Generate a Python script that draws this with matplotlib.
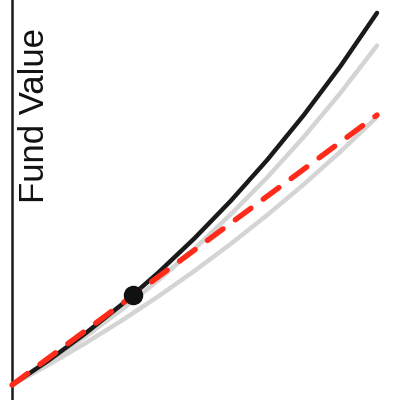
import matplotlib
matplotlib.use("Agg")
import matplotlib.pyplot as plt

# Time (fraction of horizon) and fund values
t = [0.0, 0.1, 0.2, 0.3, 0.4, 0.5, 0.6, 0.7, 0.8, 0.9, 1.0]
fund_high = [0.0, 24.5, 51.3, 80.3, 112.1, 146.7, 184.4, 225.4, 270.2, 318.9, 372.1]
fund_mid = [0.0, 23.1, 48.1, 75.1, 104.5, 136.2, 170.9, 207.9, 248.3, 292.1, 339.5]
fund_low = [0.0, 20.2, 41.6, 64.3, 88.4, 114.1, 141.3, 170.2, 200.8, 233.4, 268.0]
linear_t = [0.0, 1.0]
linear_val = [0.0, 270.0]
point_t = [0.3315]
point_val = [90.0]
ylabel = "Fund Value"

plt.rcParams['font.family'] = ['Liberation Sans', 'DejaVu Sans']

fig = plt.figure(figsize=(4, 4), dpi=100)
ax = fig.add_axes([0.03, 0.0, 0.97, 1.0])

grey = '#d4d4d4'
ax.plot(t, fund_mid, color=grey, lw=3.2, solid_capstyle='round', zorder=1)
ax.plot(t, fund_low, color=grey, lw=3.2, solid_capstyle='round', zorder=1)
ax.plot(t, fund_high, color='#1a1a1a', lw=3.2, solid_capstyle='round', zorder=2)
lw_r = 3.9
ax.plot(linear_t, linear_val, color='#ff2a1a', lw=lw_r,
        linestyle=(0, (14.0 / lw_r, 11.0 / lw_r)), dash_capstyle='round',
        clip_on=False, zorder=3)
ax.plot(point_t, point_val, 'o', color='#111111', markersize=13, zorder=4)

ax.set_xlim(0, 388 / 365)
ax.set_ylim(-15, 385)

for s in ['top', 'right', 'bottom']:
    ax.spines[s].set_visible(False)
ax.spines['left'].set_linewidth(1.8)
ax.spines['left'].set_color('#1a1a1a')
ax.set_xticks([])
ax.set_yticks([])

ax.text(0.058, 0.712, ylabel, rotation=90, fontsize=25, ha='center', va='center',
        transform=ax.transAxes, color='#111111')

fig.savefig('out.png', dpi=100)
